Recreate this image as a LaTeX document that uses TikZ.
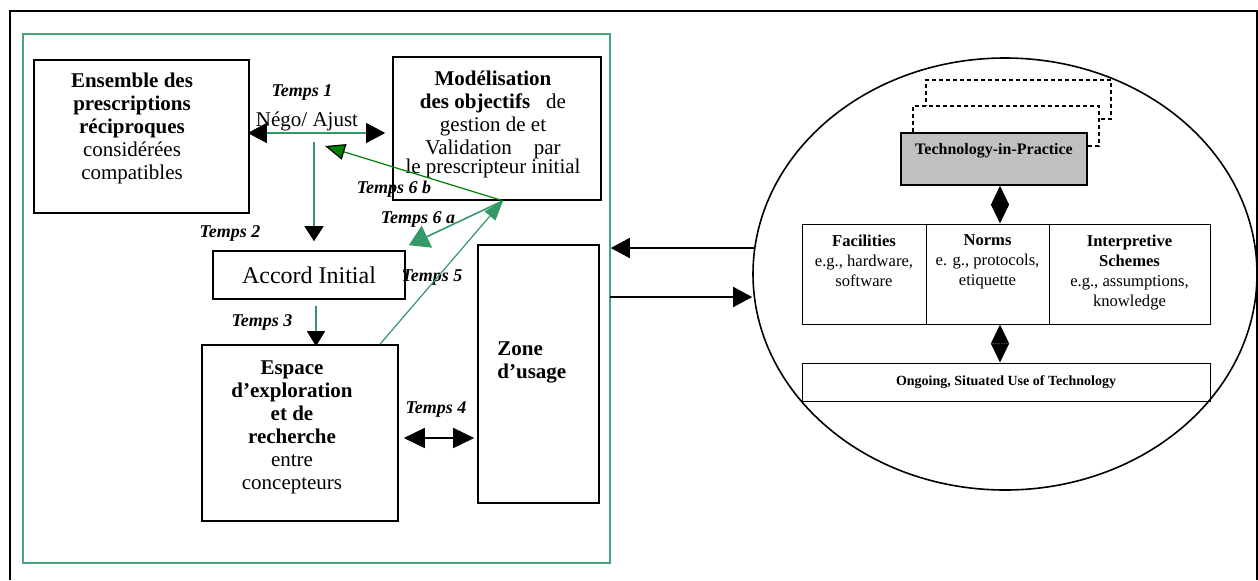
\documentclass[tikz,border=0pt]{standalone}
\usepackage{fontspec}
\setmainfont{Liberation Serif}
\usetikzlibrary{arrows.meta,positioning,shapes.geometric,calc}

\definecolor{vertcadre}{RGB}{70,165,120}
\definecolor{vertfleche}{RGB}{51,153,102}
\definecolor{vertfonce}{RGB}{0,128,0}
\definecolor{grisboite}{RGB}{192,192,192}

\tikzset{
    boite/.style={draw, line width=.8pt, inner sep=0pt},
    cellule/.style={draw, line width=.5pt, inner sep=0pt, minimum height=50pt},
    pointille/.style={draw, fill=white, line width=.6pt, dash pattern=on 2pt off 1.5pt, inner sep=0pt},
    temps/.style={font=\fontsize{9}{10}\selectfont\bfseries\itshape, inner sep=0pt},
    gros/.style={font=\fontsize{10.5}{11.5}\selectfont, align=center, inner sep=0pt},
    petit/.style={font=\fontsize{8.3}{10}\selectfont, align=center, inner sep=0pt},
    lienvert/.style={vertfleche, line width=.6pt},
    fleche/.style={-{Triangle[length=9.5pt,width=10pt]}, line width=.8pt},
    losange/.style={{Triangle[length=9.5pt,width=9pt]}-{Triangle[length=9.5pt,width=9pt]}, line width=.5pt},
}

\begin{document}
\begin{tikzpicture}[x=0.5pt, y=-0.5pt]
    \useasboundingbox (0,0) rectangle (1258,580);

    % cadres
    \draw[line width=.9pt] (10,580) -- (10,11) -- (1257,11) -- (1257,580);
    \node[draw=vertcadre, line width=.8pt, minimum width=293.5pt, minimum height=264.5pt, inner sep=0pt] (cadre) at (316.5,298.5) {};

    % boites de conception
    \node[boite, minimum width=107.5pt, minimum height=76.5pt] (ens) at (141.5,136.5) {};
    \node[gros] (ens-txt) at (132,128) {\textbf{Ensemble des}\\\textbf{prescriptions}\\\textbf{réciproques}\\considérées\\compatibles};

    \node[boite, minimum width=104pt, minimum height=71.5pt] (mod) at (497,128.5) {};
    \node[gros] (mod-txt) at (493,124) {\textbf{Modélisation}\\\textbf{des objectifs}\hspace{8pt}de\\gestion de et\\Validation\hspace{11pt}par\\[-2pt]le prescripteur initial};

    \node[boite, minimum width=96pt, minimum height=24pt, font=\fontsize{12}{14}\selectfont] (acc) at (309,275) {Accord Initial};

    \node[boite, minimum width=98pt, minimum height=88pt] (esp) at (300,433) {};
    \node[gros] (esp-txt) at (292,427) {\textbf{Espace}\\\textbf{d’exploration}\\\textbf{et de}\\\textbf{recherche}\\entre\\concepteurs};

    \node[boite, minimum width=60.5pt, minimum height=129pt] (zone) at (538.5,374) {};
    \node[gros, align=left, anchor=west] (zone-txt) at (497,362) {\textbf{Zone}\\\textbf{d’usage}};

    % etapes
    \node[temps] (t1) at (302,92) {Temps 1};
    \node[gros] (nego) at (307,121) {Négo/ Ajust};
    \node[temps] (t2) at (230,233) {Temps 2};
    \node[temps] (t6b) at (394,189) {Temps 6 b};
    \node[temps] (t6a) at (418,219) {Temps 6 a};
    \node[temps] (t5) at (432,278) {Temps 5};
    \node[temps] (t3) at (262,322) {Temps 3};
    \node[temps] (t4) at (436,409) {Temps 4};

    \coordinate (d2) at (314,142);
    \coordinate (p6) at ($(mod.south)+(6,0)$);
    \coordinate (f6b) at (325,146);

    \draw[lienvert, {Triangle[length=9.5pt,width=10pt,color=black]}-{Triangle[length=9.5pt,width=10pt,color=black]}] ($(ens.east)+(-2,-3.5)$) -- ($(mod.west)+(-7,4.5)$);
    \draw[lienvert, -{Triangle[length=7.5pt,width=9.5pt,color=black]}] (d2) -- ($(acc.north)+(5,-9)$);
    \draw[lienvert, -{Triangle[length=7.5pt,width=9pt,color=black]}] ($(acc.south)+(7,6)$) -- ($(esp.north)+(16,2)$);
    \draw[line width=.8pt, {Triangle[length=10.5pt,width=10pt]}-{Triangle[length=10.5pt,width=10pt]}] ($(esp.east)+(5,5)$) -- ($(zone.west)+(-3,64)$);
    \draw[lienvert, -{Triangle[length=10pt,width=7pt]}] ($(esp.north)+(80,0)$) -- (p6);
    \draw[lienvert, line width=.8pt, -{Triangle[length=10pt,width=12pt]}] (p6) -- ($(acc.north east)+(3,-5)$);
    \draw[vertfonce, line width=.6pt, -{Triangle[length=10pt,width=8pt,color=black,fill=vertfonce]}] (p6) -- (f6b);

    % technology-in-practice
    \node[draw, ellipse, line width=.8pt, minimum width=252pt, minimum height=216pt, inner sep=0pt] (cercle) at (1005,274) {};

    \node[pointille, minimum width=92.5pt, minimum height=19.5pt] (fond2) at (1018.5,99.5) {};
    \node[pointille, minimum width=93pt, minimum height=20pt] (fond1) at (1006,126) {};
    \node[draw, fill=grisboite, line width=.8pt, minimum width=93pt, minimum height=26pt, inner sep=0pt] (tech) at (994,159) {};
    \node[font=\fontsize{8}{9}\selectfont\bfseries, inner sep=0pt] (tech-txt) at (994,151) {Technology-in-Practice};

    \node[cellule, minimum width=62pt] (fac) at (864,274) {};
    \node[cellule, minimum width=61.5pt] (norm) at (987.5,274) {};
    \node[cellule, minimum width=80.5pt] (interp) at (1129.5,274) {};
    \node[petit, below=5.5pt of fac.north] (fac-txt) {\textbf{Facilities}\\e.g., hardware,\\software};
    \node[petit, below=5.5pt of norm.north] (norm-txt) {\textbf{Norms}\\e. g., protocols,\\etiquette};
    \node[petit, below=5.5pt of interp.north] (interp-txt) {\textbf{Interpretive}\\\textbf{Schemes}\\e.g., assumptions,\\knowledge};

    \node[cellule, minimum width=204pt, minimum height=19pt, font=\fontsize{7}{8}\selectfont\bfseries] (ongo) at (1006,382) {Ongoing, Situated Use of Technology};

    \draw[losange] ($(tech.south)+(6,0)$) -- ($(norm.north)+(12.5,0)$);
    \draw[losange] ($(norm.south)+(12.5,0)$) -- ($(ongo.north)+(-6,0)$);

    % liens avec le cadre
    \coordinate (gA) at (754,248);
    \coordinate (gB) at (610,297);
    \draw[fleche] (gA) -- (cadre.east |- gA);
    \draw[fleche] (gB) -- (cercle.west |- gB);

\end{tikzpicture}
\end{document}
